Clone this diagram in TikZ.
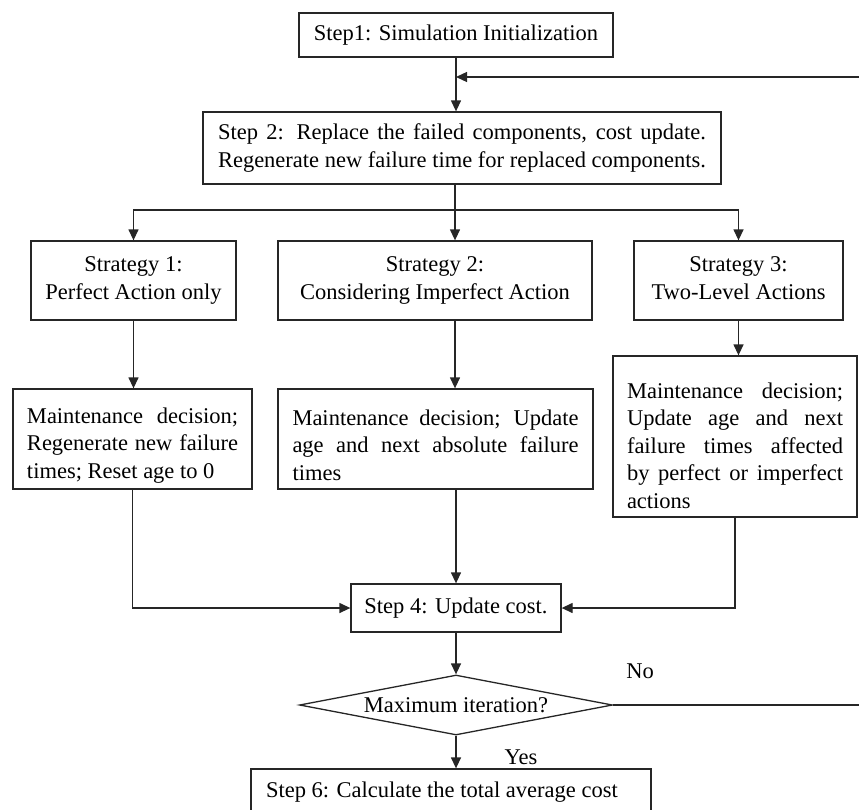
\documentclass[tikz,border=0pt]{standalone}
\usepackage{fontspec}
\setmainfont{Liberation Serif}
\usetikzlibrary{arrows.meta,shapes.geometric}
\newcommand{\jl}[2]{\makebox[#1][s]{#2}}
\begin{document}
\begin{tikzpicture}[x=1pt,y=-1pt,
  font=\fontsize{22.5pt}{27.5pt}\selectfont,
  box/.style={draw=black!85, line width=1.3pt, inner sep=0pt, align=center},
  lbox/.style={draw=black!85, line width=1.3pt, inner sep=0pt, align=left},
  conn/.style={draw=black!85, line width=1.3pt},
  arr/.style={conn, -{Triangle[length=11pt,width=10pt]}},
  lbl/.style={inner sep=0pt}
]
\useasboundingbox (0,0) rectangle (859,809);
\clip (0,0) rectangle (859,809);

\node[box, minimum width=314pt, minimum height=44pt] (s1) at (456,35) {Step1: Simulation Initialization};
\node[box, minimum width=518pt, minimum height=72pt] (s2) at (462,148)
  {\jl{488pt}{Step 2: Replace the failed components, cost update.}\\
   \jl{488pt}{Regenerate new failure time for replaced components.}};

\node[box, minimum width=205pt, minimum height=79pt] (st1) at (133.5,280.5) {Strategy 1:\\Perfect Action only};
\node[box, minimum width=314pt, minimum height=79pt] (st2) at (435,280.5) {Strategy 2:\\Considering Imperfect Action};
\node[box, minimum width=209pt, minimum height=79pt] (st3) at (738.5,280.5) {Strategy 3:\\Two-Level Actions\vphantom{y}};

\node[lbox, minimum width=239pt, minimum height=100pt] (m1) at (132.5,439)
  {\rule{0pt}{28pt}\jl{211pt}{Maintenance decision;}\\
   \jl{211pt}{Regenerate new failure}\\
   times; Reset age to 0};
\node[lbox, minimum width=315pt, minimum height=100pt] (m2) at (435.5,439)
  {\rule{0pt}{28pt}\jl{286pt}{Maintenance decision; Update}\\
   \jl{286pt}{age and next absolute failure}\\
   times};
\node[lbox, minimum width=244pt, minimum height=161pt] (m3) at (735,436.5)
  {\rule{0pt}{34pt}\jl{216pt}{Maintenance decision;}\\
   \jl{216pt}{Update age and next}\\
   \jl{216pt}{failure times affected}\\
   \jl{216pt}{by perfect or imperfect}\\
   actions};

\node[box, minimum width=210pt, minimum height=48pt] (s4) at (456,608) {Step 4: Update cost.};
\node[draw=black!85, line width=1.3pt, shape=diamond, shape aspect=5.2, inner sep=0pt,
      minimum width=313pt, minimum height=60pt] (dia) at (456,705) {Maximum iteration?};
\node[box, minimum width=400pt, minimum height=46pt] (s6) at (451,792)
  {\makebox[370pt][l]{Step 6: Calculate the total average cost}};

\node[lbl] (no) at (640,671) {No};
\node[lbl] (yes) at (521,757) {Yes};

\coordinate (fb) at (456,77);
\coordinate (rc) at (875,77);
\coordinate (br) at (455,210);

\draw[arr] (s1.south) -- (s1.south |- s2.north);
\draw[arr] (dia.east) -| (rc) -- (fb);

\draw[conn] (s2.south -| br) -- (br);
\draw[arr] (br) -| (st1.north);
\draw[arr] (br) -| (st3.north);
\draw[arr] (br) -- (br |- st2.north);

\draw[arr] (st1.south) -- (st1.south |- m1.north);
\draw[arr] (st2.south -| br) -- (br |- m2.north);
\draw[arr] (st3.south) -- (st3.south |- m3.north);

\draw[arr] (m1.south) |- (s4.west);
\draw[arr] (m2.south -| s4.north) -- (s4.north);
\draw[arr] (m3.south) |- (s4.east);

\draw[arr] (s4.south) -- (dia.north);
\draw[arr] (dia.south) -- (dia.south |- s6.north);
\end{tikzpicture}
\end{document}
